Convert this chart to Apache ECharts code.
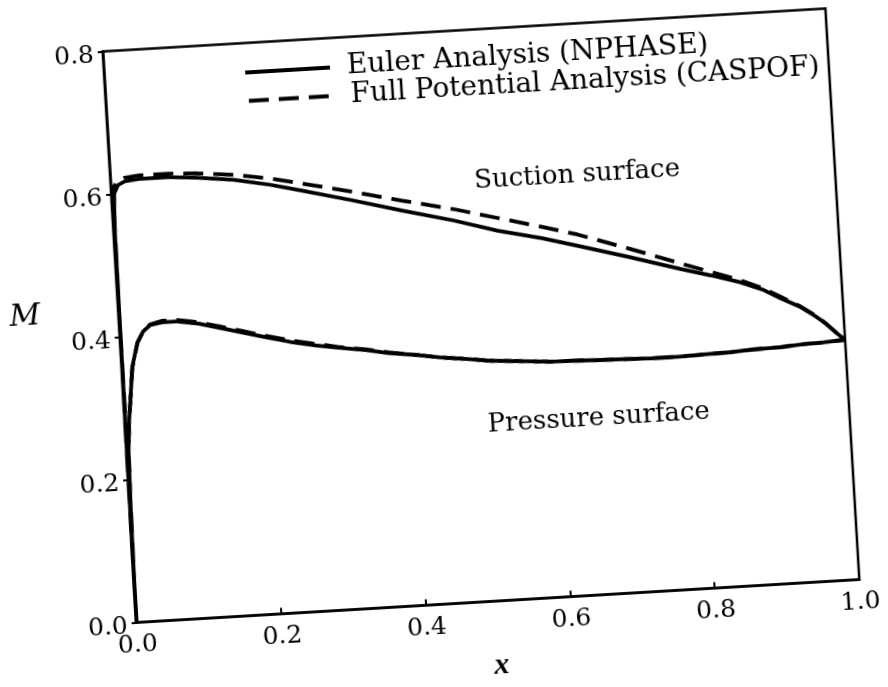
<!DOCTYPE html>
<html>
<head>
<meta charset="utf-8">
<script src="https://cdn.jsdelivr.net/npm/echarts/dist/echarts.min.js"></script>
<style>
html,body{margin:0;padding:0;background:#fff;overflow:hidden;width:888px;height:687px}
#wrap{position:absolute;left:0;top:0;width:888px;height:687px;transform:rotate(-3.4deg);transform-origin:481px 315.5px}
#chart{width:888px;height:687px}
</style>
</head>
<body>
<div id="wrap"><div id="chart"></div></div>
<script>
// ---- data ----
const legendNames = ['Euler Analysis (NPHASE)', 'Full Potential Analysis (CASPOF)'];
const xTicks = [0.0, 0.2, 0.4, 0.6, 0.8, 1.0];
const yTicks = [0.0, 0.2, 0.4, 0.6, 0.8];

const suctionX = [0, 0.001, 0.002, 0.004, 0.01, 0.02, 0.04, 0.08, 0.12, 0.17, 0.22, 0.26, 0.33, 0.40, 0.47, 0.53, 0.59, 0.64, 0.71, 0.78, 0.82, 0.86, 0.89, 0.915, 0.94, 0.96, 0.975, 0.99, 1.0];
const eulerSuctionM = [0, 0.30, 0.55, 0.60, 0.612, 0.617, 0.619, 0.619, 0.616, 0.610, 0.600, 0.590, 0.572, 0.553, 0.535, 0.517, 0.503, 0.489, 0.469, 0.448, 0.437, 0.425, 0.413, 0.399, 0.386, 0.372, 0.360, 0.345, 0.336];
const caspofSuctionM = [0, 0.30, 0.56, 0.61, 0.618, 0.622, 0.624, 0.624, 0.622, 0.617, 0.609, 0.600, 0.584, 0.567, 0.551, 0.535, 0.519, 0.505, 0.481, 0.456, 0.442, 0.428, 0.415, 0.401, 0.387, 0.373, 0.360, 0.345, 0.336];

const pressureX = [0, 0.0003, 0.001, 0.003, 0.006, 0.0096, 0.015, 0.024, 0.033, 0.043, 0.06, 0.08, 0.11, 0.14, 0.17, 0.20, 0.235, 0.27, 0.30, 0.34, 0.37, 0.41, 0.44, 0.48, 0.51, 0.55, 0.59, 0.63, 0.66, 0.70, 0.73, 0.77, 0.80, 0.84, 0.87, 0.91, 0.94, 0.97, 1.0];
const eulerPressureM = [0, 0.10, 0.15, 0.24, 0.28, 0.31, 0.357, 0.391, 0.406, 0.414, 0.417, 0.417, 0.412, 0.404, 0.396, 0.388, 0.379, 0.372, 0.367, 0.361, 0.355, 0.350, 0.345, 0.340, 0.336, 0.333, 0.330, 0.329, 0.328, 0.327, 0.326, 0.326, 0.327, 0.328, 0.330, 0.331, 0.333, 0.334, 0.336];
const caspofPressureM = [0, 0.10, 0.15, 0.24, 0.28, 0.31, 0.356, 0.390, 0.406, 0.415, 0.419, 0.419, 0.414, 0.406, 0.398, 0.390, 0.381, 0.374, 0.368, 0.362, 0.356, 0.350, 0.345, 0.340, 0.336, 0.333, 0.330, 0.329, 0.328, 0.327, 0.326, 0.326, 0.327, 0.328, 0.330, 0.331, 0.333, 0.334, 0.336];

const annotations = [
  {text: 'Suction surface', x: 0.644, y: 0.588},
  {text: 'Pressure surface', x: 0.654, y: 0.247}
];

// ---- chart ----
const FONT = 'DejaVu Serif';
const pair = (xs, ys) => xs.map((x, i) => [x, ys[i]]);
const chart = echarts.init(document.getElementById('chart'), null, {renderer: 'canvas'});

const solid = {type: 'solid', width: 3.8, color: '#000'};
const dashed = {type: [20, 10], width: 3.8, color: '#000'};

function legendFor(name, left, top) {
  return {
    data: [name], left: left, top: top, padding: 0, orient: 'vertical',
    itemWidth: 85, itemHeight: 14, selectedMode: false,
    itemStyle: {opacity: 0},
    lineStyle: {width: 4},
    textStyle: {fontFamily: FONT, fontSize: 28, color: '#000', padding: [0, 0, 22, 12]}
  };
}

const option = {
  backgroundColor: '#fff',
  animation: false,
  color: ['#000', '#000'],
  grid: {left: 119, top: 29.5, width: 724, height: 572, show: true, borderColor: '#000', borderWidth: 2.5, backgroundColor: 'transparent'},
  legend: [legendFor(legendNames[0], 258, 45), legendFor(legendNames[1], 260, 73.5)],
  xAxis: {
    type: 'value', min: 0, max: 1, interval: 0.2,
    name: 'x', nameLocation: 'middle', nameGap: 50,
    nameTextStyle: {fontFamily: 'Liberation Serif', fontStyle: 'italic', fontWeight: 'bold', fontSize: 30, color: '#000'},
    axisLine: {show: true, lineStyle: {color: '#000', width: 2.5}},
    axisTick: {show: true, inside: true, length: 6, lineStyle: {color: '#000', width: 2}},
    axisLabel: {fontFamily: FONT, fontSize: 25, color: '#000', margin: 10,
      customValues: xTicks, formatter: v => v.toFixed(1)},
    splitLine: {show: false}
  },
  yAxis: {
    type: 'value', min: 0, max: 0.8, interval: 0.2,
    name: 'M', nameLocation: 'middle', nameGap: 78, nameRotate: 0,
    nameTextStyle: {fontFamily: FONT, fontStyle: 'italic', fontSize: 30, color: '#000', verticalAlign: 'bottom', lineHeight: 50},
    axisLine: {show: true, lineStyle: {color: '#000', width: 2.5}},
    axisTick: {show: true, inside: false, length: 5, lineStyle: {color: '#000', width: 2}},
    axisLabel: {fontFamily: FONT, fontSize: 25, color: '#000', margin: 9, verticalAlign: 'top', lineHeight: 8,
      customValues: yTicks, formatter: v => v.toFixed(1)},
    splitLine: {show: false}
  },
  series: [
    {name: legendNames[0], type: 'line', data: pair(suctionX, eulerSuctionM), symbol: 'none', lineStyle: solid, itemStyle: {color: '#000'}, z: 3},
    {name: legendNames[1], type: 'line', data: pair(suctionX, caspofSuctionM), symbol: 'none', lineStyle: dashed, itemStyle: {color: '#000'}, z: 2},
    {name: legendNames[0], type: 'line', data: pair(pressureX, eulerPressureM), symbol: 'none', lineStyle: solid, itemStyle: {color: '#000'}, z: 3},
    {name: legendNames[1], type: 'line', data: pair(pressureX, caspofPressureM), symbol: 'none', lineStyle: dashed, itemStyle: {color: '#000'}, z: 2}
  ]
};
chart.setOption(option);

const graphics = annotations.map(a => {
  const p = chart.convertToPixel({gridIndex: 0}, [a.x, a.y]);
  return {type: 'text', x: p[0], y: p[1], z: 10,
    style: {text: a.text, fontFamily: FONT, fontSize: 26, fill: '#000', align: 'center', verticalAlign: 'middle'}};
});
chart.setOption({graphic: graphics});
</script>
</body>
</html>
